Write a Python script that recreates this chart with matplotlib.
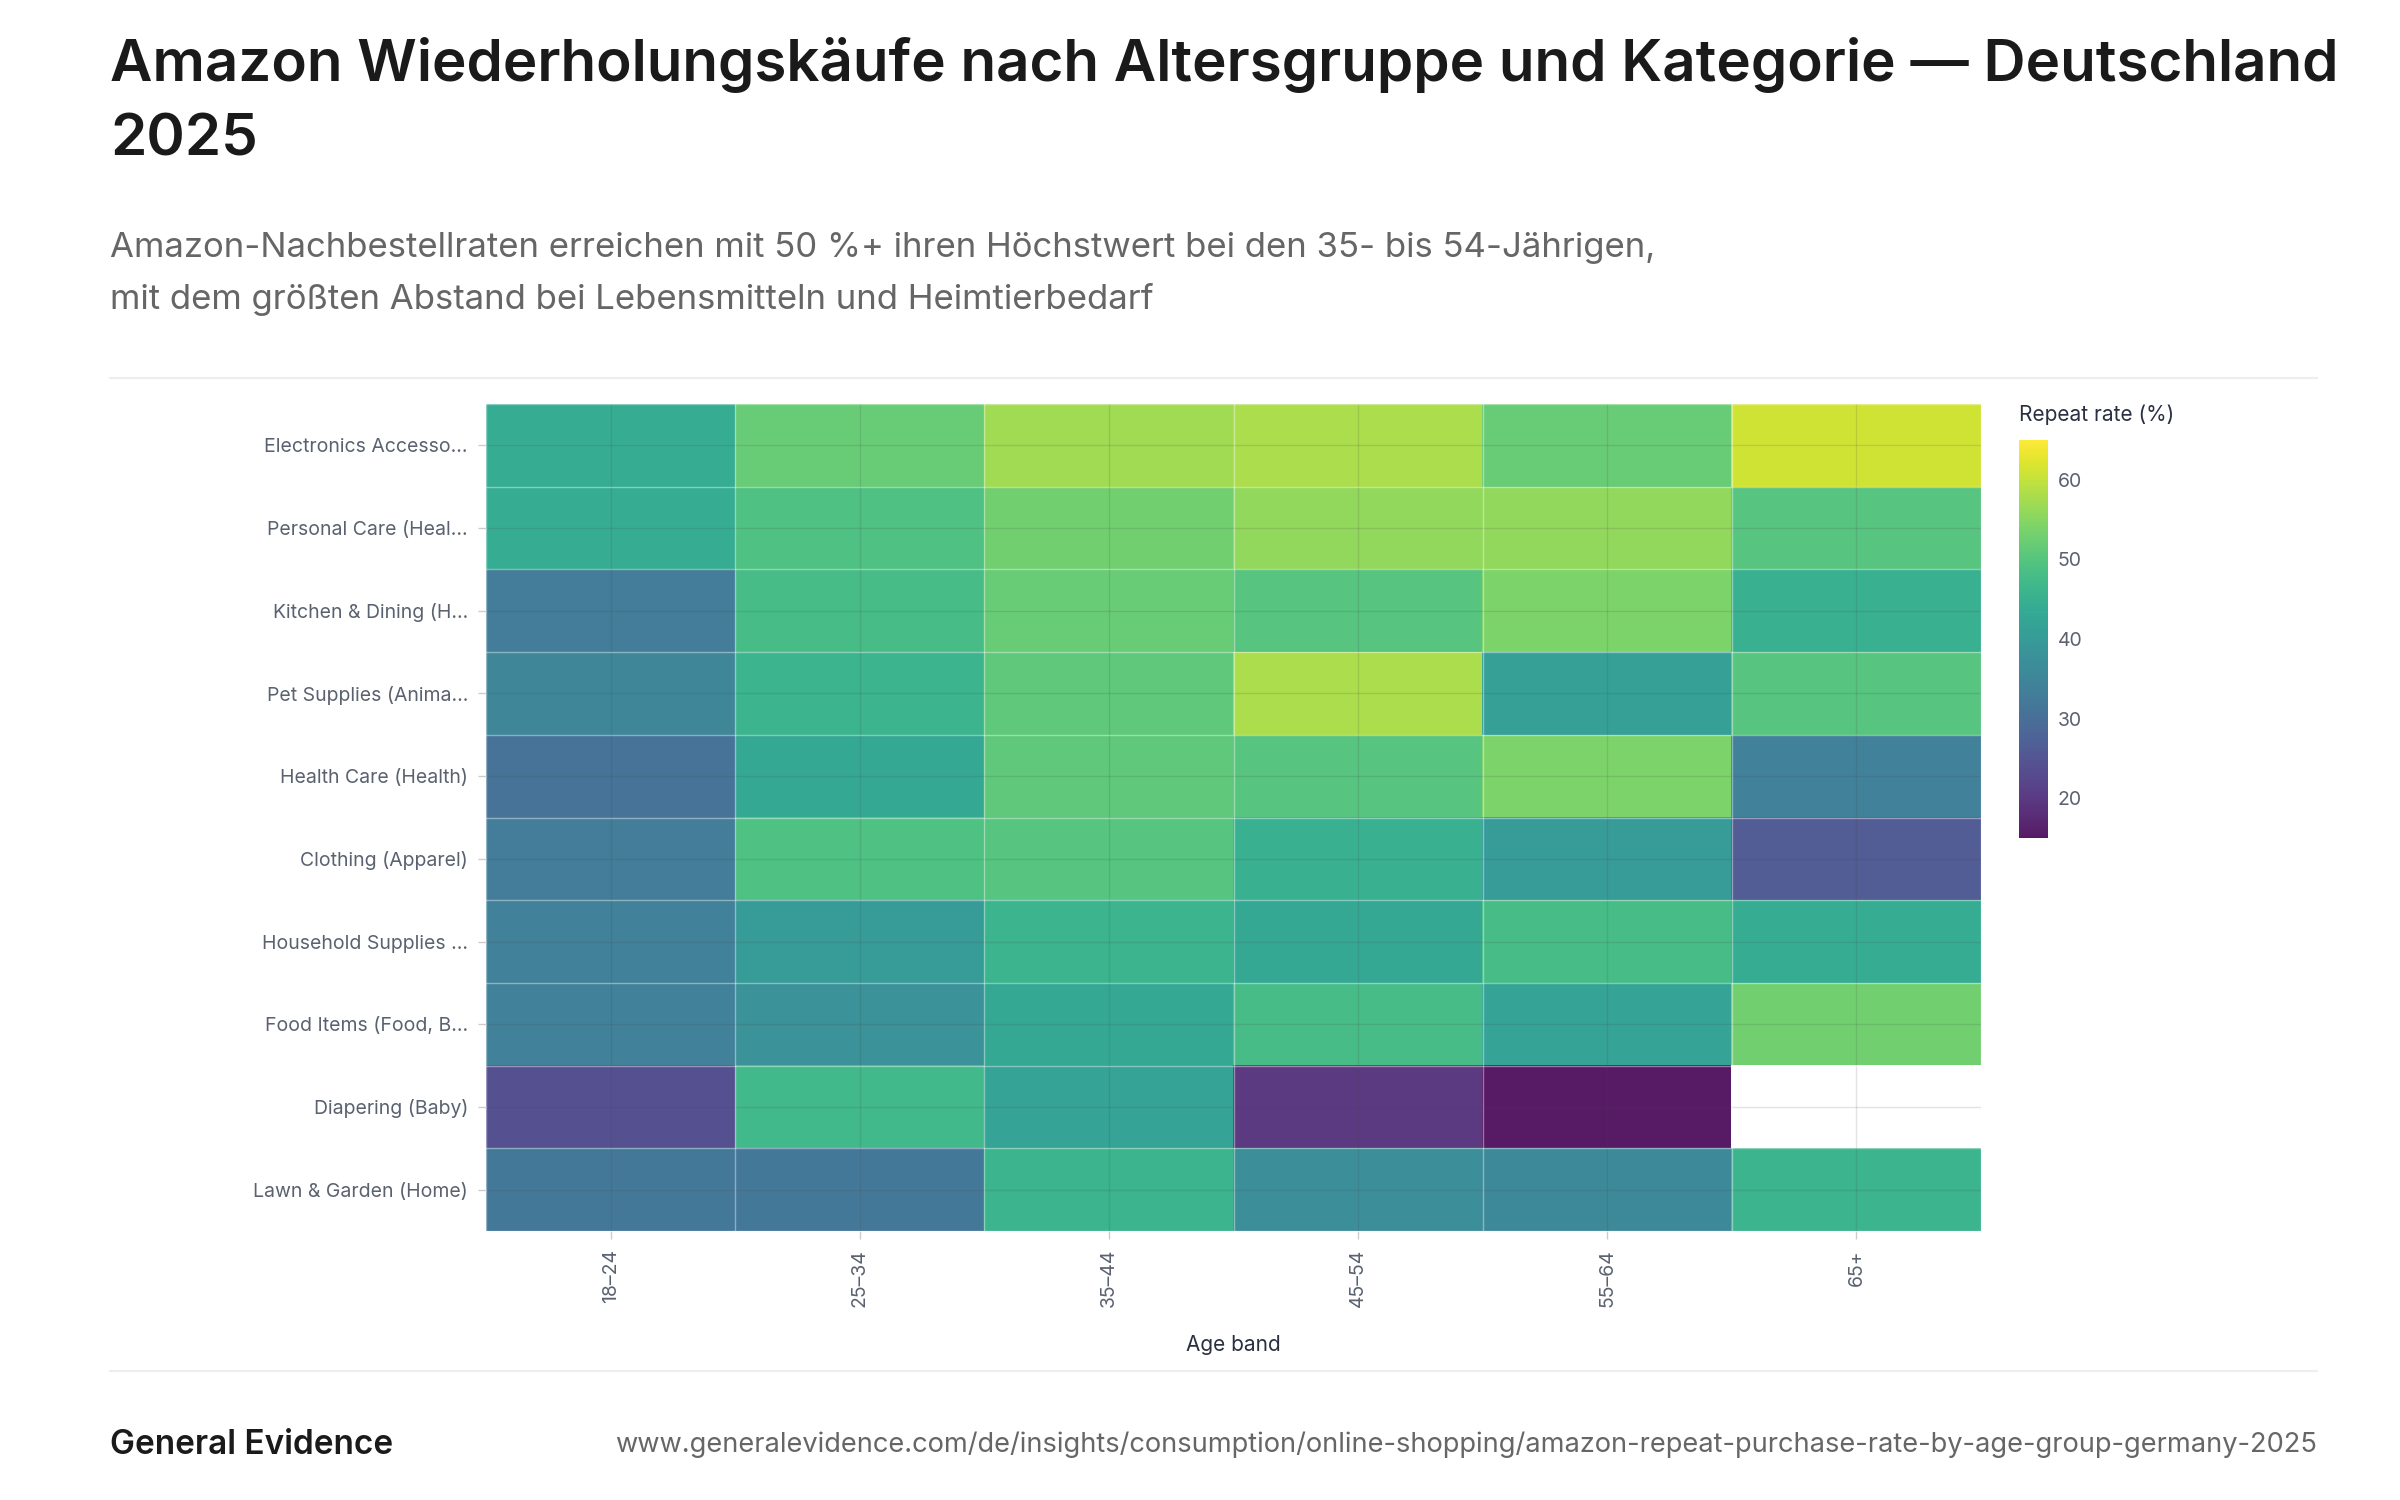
import numpy as np
import matplotlib
matplotlib.use("Agg")
import matplotlib.pyplot as plt
from matplotlib.colors import Normalize

plt.rcParams['font.family'] = ['Inter', 'DejaVu Sans']

categories = ["Electronics Accesso...", "Personal Care (Heal...", "Kitchen & Dining (H...",
              "Pet Supplies (Anima...", "Health Care (Health)", "Clothing (Apparel)",
              "Household Supplies ...", "Food Items (Food, B...", "Diapering (Baby)",
              "Lawn & Garden (Home)"]
age_bands = ["18–24", "25–34", "35–44", "45–54", "55–64", "65+"]
values = np.array([
    [44, 52, 57, 58, 52, 61],
    [44, 49, 53, 56, 56, 50],
    [33, 48, 52, 50, 54, 45],
    [35, 46, 51, 58, 41, 50],
    [31, 43, 51, 50, 54, 34],
    [33, 49, 50, 45, 40, 26],
    [34, 40, 46, 43, 48, 44],
    [34, 38, 43, 48, 42, 53],
    [24, 47, 42, 20, 15, np.nan],
    [32, 32, 46, 37, 36, 46],
], dtype=float)
vmin, vmax = 15, 65

W, H = 2400, 1500
fig = plt.figure(figsize=(12, 7.5), dpi=200)
ax = fig.add_axes([486/W, 1-1231/H, (1981-486)/W, (1231-404)/H])
norm = Normalize(vmin, vmax)
im = ax.imshow(np.ma.masked_invalid(values), cmap='viridis', norm=norm, aspect='auto',
               alpha=0.9, interpolation='nearest')
for i in range(len(categories)):
    ax.axhline(i, color='#444444', lw=0.5, alpha=0.15)
for j in range(len(age_bands)):
    ax.axvline(j, color='#444444', lw=0.5, alpha=0.15)
for i in range(len(categories)+1):
    ax.axhline(i-0.5, color='white', lw=0.5, alpha=0.4)
for j in range(len(age_bands)+1):
    ax.axvline(j-0.5, color='white', lw=0.5, alpha=0.4)
ax.set_yticks(range(len(categories)))
ax.set_yticklabels(categories, fontsize=7, color='#5a6270')
ax.set_xticks(range(len(age_bands)))
ax.set_xticklabels(age_bands, fontsize=7, color='#5a6270', rotation=90)
ax.tick_params(length=3, color='#cccccc', width=0.5)
for s in ax.spines.values():
    s.set_visible(False)
ax.set_xlabel("Age band", fontsize=7.5, color='#2a3040', labelpad=10)

cax = fig.add_axes([2019/W, 1-838/H, 29/W, (838-440)/H])
cb = fig.colorbar(im, cax=cax)
cb.set_ticks([20, 30, 40, 50, 60])
cb.ax.tick_params(labelsize=7, colors='#5a6270', length=0)
cb.outline.set_visible(False)
fig.text(2019/W, 1-415/H, "Repeat rate (%)", fontsize=7.5, color='#2a3040', va='center')

fig.text(110/W, 1-65/H, "Amazon Wiederholungskäufe nach Altersgruppe und Kategorie — Deutschland",
         fontsize=21, fontweight='semibold', color='#1a1a1a', va='center')
fig.text(110/W, 1-140/H, "2025", fontsize=21, fontweight='semibold', color='#1a1a1a', va='center')
fig.text(110/W, 1-248/H, "Amazon-Nachbestellraten erreichen mit 50 %+ ihren Höchstwert bei den 35- bis 54-Jährigen,",
         fontsize=12.5, color='#666666', va='center')
fig.text(110/W, 1-300/H, "mit dem größten Abstand bei Lebensmitteln und Heimtierbedarf",
         fontsize=12.5, color='#666666', va='center')
for y in (378, 1371):
    fig.add_artist(plt.Line2D([110/W, 2317/W], [1-y/H, 1-y/H], color='#eeeeee', lw=0.8))
fig.text(110/W, 1-1445/H, "General Evidence", fontsize=12, fontweight='semibold', color='#1a1a1a', va='center')
fig.text(2317/W, 1-1445/H,
         "www.generalevidence.com/de/insights/consumption/online-shopping/amazon-repeat-purchase-rate-by-age-group-germany-2025",
         fontsize=9.8, color='#666666', va='center', ha='right')
fig.savefig("out.png", dpi=200, facecolor='white')
